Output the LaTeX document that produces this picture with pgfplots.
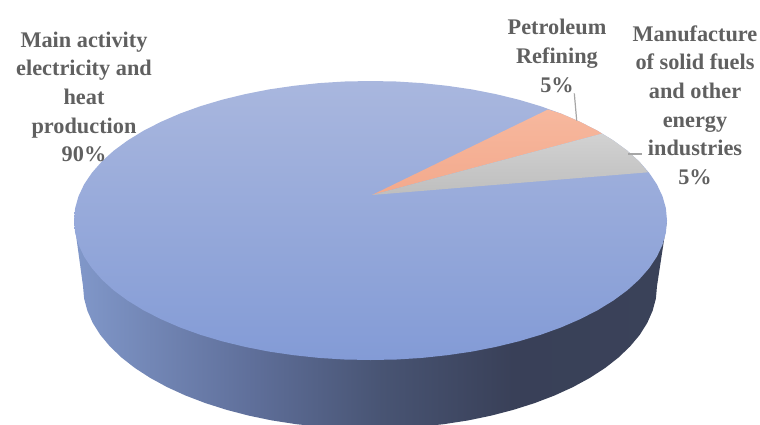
\documentclass[border=0pt]{standalone}
\usepackage{pgfplots}
\pgfplotsset{compat=1.18}
\usepackage{fontspec}
\setmainfont{Liberation Serif}
\definecolor{lbl}{HTML}{606060}
\definecolor{lead}{HTML}{A6A6A6}
\definecolor{sA}{HTML}{8198CA}
\definecolor{sB}{HTML}{5F6F9A}
\definecolor{sC}{HTML}{485473}
\definecolor{sD}{HTML}{394058}
\definecolor{sE}{HTML}{3A4259}
\definecolor{tT}{HTML}{A9B7DE}
\definecolor{tB}{HTML}{839BD6}
\definecolor{oT}{HTML}{F7B89E}
\definecolor{oB}{HTML}{F3A98C}
\definecolor{gT}{HTML}{D2D2D2}
\definecolor{gB}{HTML}{BEBEBE}
\pgfdeclarehorizontalshading{sideshade}{100bp}{
 color(0bp)=(sA); color(25bp)=(sA); color(40bp)=(sB); color(51bp)=(sC); color(62bp)=(sD); color(75bp)=(sE); color(100bp)=(sE)}
\begin{document}
\begin{tikzpicture}
\begin{axis}[
  scale only axis, width=760pt, height=424pt,
  xmin=0, xmax=760, ymin=0, ymax=424, y dir=reverse,
  hide axis, clip=true,
  every axis plot/.append style={no markers, forget plot}
]
% side wall
\addplot[draw=none, shading=sideshade] coordinates {
 (74,220.5)(83,286)(84.1,298.5)(87.4,310.8)(92.8,323)(100.3,334.9)(109.9,346.4)(121.5,357.5)(134.9,368)(150.2,377.9)(167.1,387.1)(185.5,395.5)(205.4,403.1)(226.5,409.8)(248.7,415.6)(271.8,420.4)(295.7,424.1)(320.2,426.8)(345,428.5)(370,429)
 (395,428.5)(419.8,426.8)(444.3,424.1)(468.2,420.4)(491.3,415.6)(513.5,409.8)(534.6,403.1)(554.5,395.5)(572.9,387.1)(589.8,377.9)(605.1,368)(618.5,357.5)(630.1,346.4)(639.7,334.9)(647.2,323)(652.6,310.8)(655.9,298.5)(657,286)(667,220.5)
} -- cycle;
% top face (90 %)
\addplot[draw=none, top color=tT, bottom color=tB] coordinates {
 (667,220.5)(665.9,208.3)(662.5,196.3)(656.9,184.4)(649.1,172.8)(639.2,161.5)(627.3,150.7)(613.4,140.5)(597.6,130.8)(580.2,121.9)(561.1,113.6)(540.6,106.2)(518.8,99.7)(495.8,94.1)(471.9,89.4)(447.2,85.8)(422,83.1)(396.4,81.5)(370.5,81)
 (344.6,81.5)(319,83.1)(293.8,85.8)(269.1,89.4)(245.2,94.1)(222.2,99.7)(200.4,106.2)(179.9,113.6)(160.8,121.9)(143.4,130.8)(127.6,140.5)(113.7,150.7)(101.8,161.5)(91.9,172.8)(84.1,184.4)(78.5,196.3)(75.1,208.3)(74,220.5)
 (75.1,232.7)(78.5,244.7)(84.1,256.6)(91.9,268.2)(101.8,279.5)(113.7,290.3)(127.6,300.5)(143.4,310.2)(160.8,319.1)(179.9,327.4)(200.4,334.8)(222.2,341.3)(245.2,346.9)(269.1,351.6)(293.8,355.2)(319,357.9)(344.6,359.5)(370.5,360)
 (396.4,359.5)(422,357.9)(447.2,355.2)(471.9,351.6)(495.8,346.9)(518.8,341.3)(540.6,334.8)(561.1,327.4)(580.2,319.1)(597.6,310.2)(613.4,300.5)(627.3,290.3)(639.2,279.5)(649.1,268.2)(656.9,256.6)(662.5,244.7)(665.9,232.7)
} -- cycle;
% Petroleum Refining (5 %)
\addplot[draw=none, top color=oT, bottom color=oB] coordinates {
 (372,195)(548,109.5)(561.1,113.6)(580.2,121.9)(597.6,130.8)(602,133.6)
} -- cycle;
% Manufacture of solid fuels (5 %)
\addplot[draw=none, top color=gT, bottom color=gB] coordinates {
 (372,195)(602,133.6)(613.4,140.5)(627.3,150.7)(639.2,161.5)(648,172.3)
} -- cycle;
% leader lines
\addplot[lead, line width=1.2pt] coordinates {(574.3,93.3)(576.7,120.7)};
\addplot[lead, line width=1.2pt] coordinates {(628.3,154)(641.7,154)};
% labels
\node[text=lbl, align=center, font=\fontsize{22.3}{28.6}\selectfont\bfseries] at (axis cs:84,97) {Main activity\\electricity and\\heat\\production\\90\%};
\node[text=lbl, align=center, font=\fontsize{22.3}{28.6}\selectfont\bfseries] at (axis cs:557,56) {Petroleum\\Refining\\5\%};
\node[text=lbl, align=center, font=\fontsize{22.3}{28.6}\selectfont\bfseries] at (axis cs:695,105) {Manufacture\\of solid fuels\\and other\\energy\\industries\\5\%};
\end{axis}
\pgfresetboundingbox
\path[use as bounding box] (current axis.south west) rectangle (current axis.north east);
\end{tikzpicture}
\end{document}
